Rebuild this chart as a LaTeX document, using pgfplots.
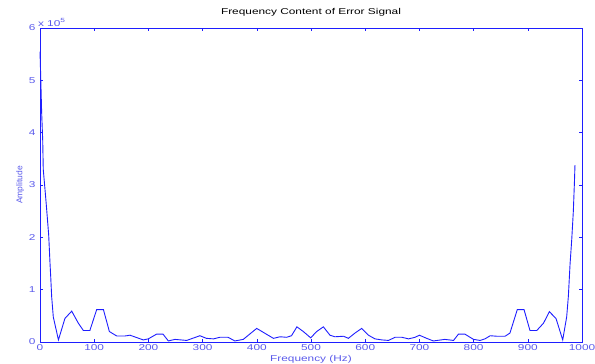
\documentclass[border=0pt]{standalone}
\usepackage{fontspec}
\setmainfont{Liberation Sans}
\newfontfamily\widefont[FakeStretch=1.4]{Liberation Sans}
\usepackage{pgfplots}
\pgfplotsset{compat=1.18}
\definecolor{axblue}{RGB}{30,30,255}
\definecolor{lblblue}{RGB}{90,90,235}
\begin{document}
\begin{tikzpicture}[x=1bp,y=1bp]
\useasboundingbox (0,0) rectangle (595,363);
\begin{axis}[
  at={(40bp,21bp)}, anchor=south west,
  scale only axis, width=542bp, height=314bp,
  xmin=0, xmax=1000, ymin=0, ymax=6,
  xtick={0,100,...,1000}, ytick={0,1,...,6},
  tick align=inside, tick pos=both,
  major tick length=3bp,
  axis line style={axblue, line width=0.8bp},
  every tick/.style={axblue, line width=0.6bp},
  ticklabel style={font=\widefont\fontsize{8.5}{9}\selectfont, text=lblblue},
  /pgf/number format/assume math mode=true,
  /pgf/number format/1000 sep={},
  xticklabel style={yshift=1bp},
  yticklabel style={xshift=-1bp},
  title={\widefont\fontsize{8.5}{9}\selectfont Frequency Content of Error Signal},
  title style={at={(0.5,1)}, anchor=south, yshift=2bp},
  xlabel={\widefont\fontsize{8.5}{9}\selectfont Frequency (Hz)},
  xlabel style={text=lblblue, yshift=2bp},
  ylabel={\fontsize{8.5}{9}\selectfont Amplitude},
  ylabel style={text=lblblue, yshift=-2bp},
  clip=false,
]
\addplot[color=axblue, line width=0.9bp] coordinates {
(0,5.55)(1.5,5.0)(3,4.4)(5,3.85)(6,3.3)(11,2.7)(16,2.05)(18.5,1.5)(20,1.2)(21.5,0.87)(24.5,0.48)(34,0.04)(46,0.45)(58.5,0.59)(70.7,0.36)(80,0.22)(92,0.22)(104.6,0.62)(117,0.62)(128,0.2)(141.5,0.115)(156.8,0.115)(166,0.13)(190.6,0.04)(199.8,0.06)(215,0.15)(227,0.15)(236.8,0.02)(249,0.05)(270.6,0.03)(295,0.12)(307,0.07)(320,0.06)(332,0.09)(347,0.09)(359.5,0.02)(375,0.05)(399.8,0.26)(430.6,0.07)(443,0.1)(455,0.09)(464,0.12)(474,0.29)(485.8,0.2)(499.4,0.08)(510.5,0.2)(522.8,0.29)(535,0.13)(544,0.1)(560,0.11)(569,0.07)(581,0.17)(593.5,0.26)(606,0.13)(618,0.06)(630.7,0.04)(643,0.03)(655,0.09)(667.6,0.09)(680,0.06)(692,0.09)(700,0.13)(713.4,0.07)(725.7,0.02)(747,0.05)(763,0.03)(772,0.15)(784,0.15)(799.8,0.05)(812,0.03)(821,0.06)(830.6,0.12)(843,0.11)(858,0.11)(867,0.17)(880.6,0.62)(893,0.62)(904,0.22)(916.5,0.22)(929,0.36)(939.7,0.58)(952,0.45)(964.4,0.04)(971.7,0.48)(974.8,0.87)(978,1.5)(981,1.95)(984,2.5)(986,3.05)(987,3.38)
};
\node[anchor=south west, inner sep=0pt, text=lblblue, font=\widefont\fontsize{8.5}{9}\selectfont] at (rel axis cs:-0.004,1.005) {x 10\raisebox{4bp}{\fontsize{6}{6}\selectfont 5}};
\end{axis}
\end{tikzpicture}
\end{document}
